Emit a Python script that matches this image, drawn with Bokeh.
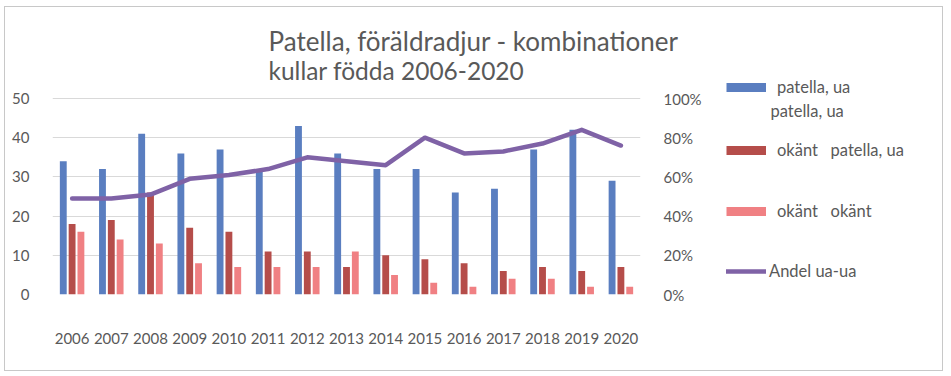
from bokeh.plotting import figure
from bokeh.layouts import row
from bokeh.models import (FactorRange, Range1d, LinearAxis, FixedTicker, PrintfTickFormatter,
                          Legend, LegendItem, Label, ColumnDataSource, Title)
from bokeh.transform import dodge
from bokeh.embed import file_html
from bokeh.resources import INLINE

# ---- data ----
years = [str(y) for y in range(2006, 2021)]
patella_ua = [34, 32, 41, 36, 37, 32, 43, 36, 32, 32, 26, 27, 37, 42, 29]
okant_patella = [18, 19, 26, 17, 16, 11, 11, 7, 10, 9, 8, 6, 7, 6, 7]
okant_okant = [16, 14, 13, 8, 7, 7, 7, 11, 5, 3, 2, 4, 4, 2, 2]
andel_ua_ua = [49, 49, 51, 59, 61, 64, 70, 68, 66, 80, 72, 73, 77, 84, 76]
left_ticks = [0, 10, 20, 30, 40, 50]
right_ticks = [0, 20, 40, 60, 80, 100]
title_lines = ["Patella, föräldradjur - kombinationer", "kullar födda 2006-2020"]
series_names = ["patella, ua", "okänt   patella, ua", "okänt   okänt", "Andel ua-ua"]
first_label_second_line = "patella, ua"

BLUE = "#5A7EC0"
DARK = "#B54D4A"
PINK = "#F08083"
PURPLE = "#7F62A6"
TEXT = "#595959"
FONT = "Lato"

src = ColumnDataSource(dict(years=years, a=patella_ua, b=okant_patella,
                            c=okant_okant, d=andel_ua_ua))

# frame reaches up close to the title so the 2nd title line and the legend fit
TOP = 49
FRAME_H = 287 - TOP
PX_PER_UNIT = 196 / 50
y_top = FRAME_H / PX_PER_UNIT

p = figure(width=700, height=363, x_range=FactorRange(*years, range_padding=0),
           y_range=Range1d(0, y_top), output_backend="svg", toolbar_location=None,
           min_border_left=47, min_border_right=65, min_border_top=TOP,
           min_border_bottom=76, background_fill_color="white",
           border_fill_color="white", title=None)
p.outline_line_color = None
p.extra_y_ranges = {"pct": Range1d(0, y_top * 2)}

p.vbar(x=dodge("years", -0.225, range=p.x_range), top="a", width=0.175,
       source=src, fill_color=BLUE, line_color=None)
p.vbar(x=dodge("years", 0.0, range=p.x_range), top="b", width=0.175,
       source=src, fill_color=DARK, line_color=None)
p.vbar(x=dodge("years", 0.225, range=p.x_range), top="c", width=0.175,
       source=src, fill_color=PINK, line_color=None)
p.line(x="years", y="d", source=src, y_range_name="pct", line_width=4.5,
       line_color=PURPLE, line_join="round", line_cap="round")

right_axis = LinearAxis(y_range_name="pct", ticker=FixedTicker(ticks=right_ticks),
                        formatter=PrintfTickFormatter(format="%d%%"))
p.add_layout(right_axis, "right")
p.yaxis[0].ticker = FixedTicker(ticks=left_ticks)

for ax in [p.xaxis[0], p.yaxis[0], right_axis]:
    ax.axis_line_color = None
    ax.major_tick_line_color = None
    ax.minor_tick_line_color = None
    ax.major_label_text_font = FONT
    ax.major_label_text_font_size = "15px"
    ax.major_label_text_color = TEXT
p.yaxis[0].major_label_standoff = 17
right_axis.major_label_standoff = 17
p.xaxis[0].major_label_standoff = 32

p.xgrid.visible = False
p.ygrid.grid_line_color = "#D9D9D9"
p.ygrid.grid_line_width = 1

p.add_layout(Title(text=title_lines[0], align="left", offset=216, standoff=0,
                   text_font=FONT, text_font_size="26px", text_color=TEXT,
                   text_font_style="normal"), "above")
p.add_layout(Label(x=216, y=223.7, x_units="screen", y_units="screen",
                   text=title_lines[1], text_baseline="alphabetic",
                   text_font=FONT, text_font_size="24.5px", text_color=TEXT))

# ---- legend panel ----
q = figure(width=237, height=363, x_range=Range1d(0, 1), y_range=Range1d(0, 1),
           output_backend="svg", toolbar_location=None, x_axis_type=None,
           y_axis_type=None, min_border_left=0, min_border_right=0,
           min_border_top=0, min_border_bottom=76, background_fill_color="white",
           border_fill_color="white", title=None)
q.outline_line_color = None
q.grid.visible = False

# hidden renderers (same data) that only provide the legend swatches
sw_a = q.line(x="a", y="a", source=src, line_width=9, line_color=BLUE,
              line_cap="butt", visible=False)
sw_b = q.line(x="b", y="b", source=src, line_width=9, line_color=DARK,
              line_cap="butt", visible=False)
sw_c = q.line(x="c", y="c", source=src, line_width=9, line_color=PINK,
              line_cap="butt", visible=False)
sw_d = q.line(x="d", y="d", source=src, line_width=4.5, line_color=PURPLE,
              line_cap="round", visible=False)


def add_leg(renderer, label, vy, standoff):
    leg = Legend(items=[LegendItem(label=label, renderers=[renderer])],
                 location=(21, vy), glyph_width=40, glyph_height=22,
                 label_height=22, label_standoff=standoff, padding=0, margin=0,
                 spacing=0, border_line_color=None, background_fill_alpha=0,
                 label_text_font=FONT, label_text_font_size="16.5px",
                 label_text_color=TEXT, click_policy="none")
    q.add_layout(leg, "center")


add_leg(sw_a, series_names[0], 196.5, 11)
add_leg(sw_b, series_names[1], 133.5, 11)
add_leg(sw_c, series_names[2], 72.5, 11)
add_leg(sw_d, series_names[3], 12.5, 3)

q.add_layout(Label(x=65, y=184, x_units="screen", y_units="screen",
                   text=first_label_second_line, text_baseline="middle",
                   text_font=FONT, text_font_size="16.5px", text_color=TEXT))

layout = row(p, q, spacing=0)
layout.styles = {"border": "1px solid #C8C8C8", "margin": "6px 0 0 4px"}

open("out.html", "w").write(file_html(layout, INLINE))
